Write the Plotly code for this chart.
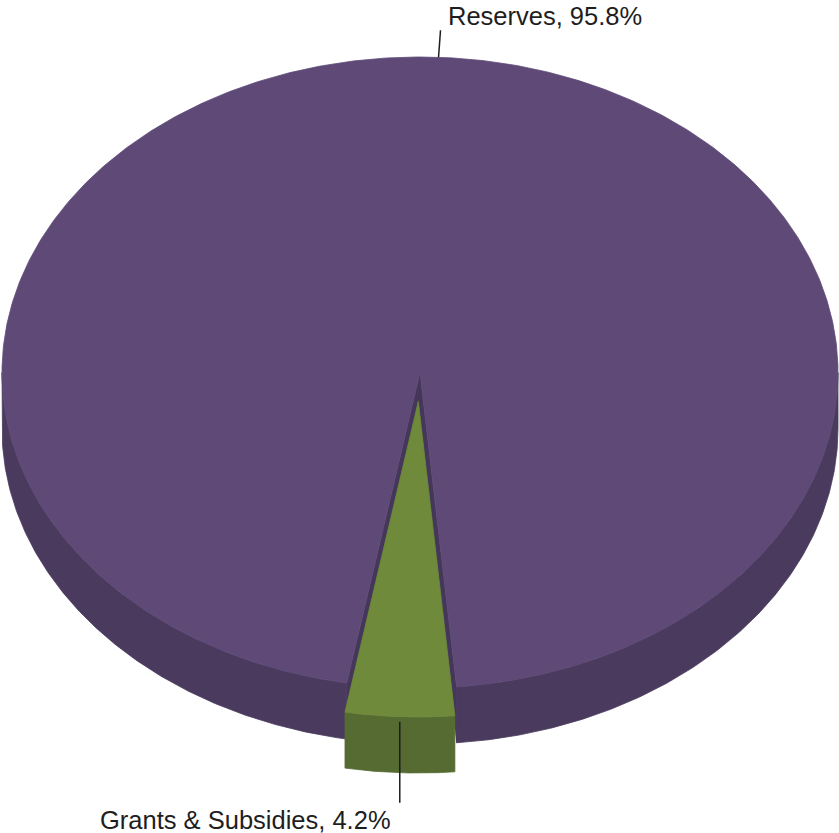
import numpy as np
import plotly.graph_objects as go

# ---- data ----
categories = ["Reserves", "Grants & Subsidies"]
values = [95.8, 4.2]
explode = [0.0, 0.092]

# ---- style / geometry (pixels) ----
W, H = 839, 833
cx, cy = 420.0, 372.5
rx, ry = 418.0, 315.5
depth = 56.0
start_deg = 190.1          # clockwise from top, where first slice begins
top_colors = ["#5E4977", "#6F8A3B"]
side_colors = ["#4A3B5E", "#566B31"]
cut_colors = ["#45375A", "#4A5C2A"]
font = dict(family="Liberation Sans, Arial, sans-serif", size=25.5, color="#1E1E1E")

total = float(sum(values))
spans = [v / total * 360.0 for v in values]
starts = [start_deg + sum(spans[:i]) for i in range(len(values))]


def pt(phi_deg, ox, oy, dz=0.0):
    p = np.radians(phi_deg)
    return cx + ox + rx * np.sin(p), cy + oy - ry * np.cos(p) + dz


def arc(a0, a1, ox, oy, dz=0.0):
    ph = np.linspace(a0, a1, max(2, int(abs(a1 - a0) * 2) + 2))
    x, y = pt(ph, ox, oy, dz)
    return list(x), list(y)


fig = go.Figure()


def poly(xs, ys, color, lw=0.8):
    xs = list(xs) + [xs[0]]
    ys = list(ys) + [ys[0]]
    fig.add_trace(go.Scatter(x=xs, y=ys, mode="lines", fill="toself",
                             fillcolor=color, line=dict(color=color, width=lw),
                             hoverinfo="skip", showlegend=False))


offsets = []
for i, (a0, sp) in enumerate(zip(starts, spans)):
    mid = a0 + sp / 2
    ox = explode[i] * rx * np.sin(np.radians(mid))
    oy = -explode[i] * ry * np.cos(np.radians(mid))
    offsets.append((ox, oy, mid))

for i, (a0, sp) in enumerate(zip(starts, spans)):
    a1 = a0 + sp
    ox, oy, mid = offsets[i]
    # visible outer side: where the rim faces the viewer (90..270 mod 360)
    for k in range(-1, 3):
        lo, hi = 90 + 360 * k, 270 + 360 * k
        s, e = max(a0, lo), min(a1, hi)
        if e > s:
            tx, ty = arc(s, e, ox, oy)
            bx, by = arc(e, s, ox, oy, depth)
            poly(tx + bx, ty + by, side_colors[i])
    # cut faces (radial walls) that face the viewer
    for ang, sign in ((a0, -1), (a1, 1)):
        p = np.radians(ang)
        ny = sign * np.sin(p)
        if ny > 0:
            x0, y0 = cx + ox, cy + oy
            x1, y1 = pt(ang, ox, oy)
            poly([x0, x1, x1, x0], [y0, y1, y1 + depth, y0 + depth], cut_colors[i], 0.5)
    # top face
    tx, ty = arc(a0, a1, ox, oy)
    poly([cx + ox] + tx, [cy + oy] + ty, top_colors[i])

# ---- labels with leader lines ----
# Reserves (top)
ox, oy, mid = offsets[0]
lx, ly = pt(mid, ox, oy)
fig.add_trace(go.Scatter(x=[lx, lx + 2], y=[ly, ly - 27], mode="lines",
                         line=dict(color="#1E1E1E", width=1.5),
                         hoverinfo="skip", showlegend=False))
fig.add_annotation(x=lx + 7, y=ly - 41, xref="x", yref="y", showarrow=False,
                   xanchor="left", yanchor="middle", font=font,
                   text=f"{categories[0]}, {values[0]:.1f}%")

# Grants & Subsidies (bottom)
ox, oy, mid = offsets[1]
gx, gy = pt(mid, ox, oy)
fig.add_trace(go.Scatter(x=[gx, gx], y=[gy + 5, gy + 86], mode="lines",
                         line=dict(color="#1E1E1E", width=1.5),
                         hoverinfo="skip", showlegend=False))
fig.add_annotation(x=gx - 7, y=gy + 103, xref="x", yref="y", showarrow=False,
                   xanchor="right", yanchor="middle", font=font,
                   text=f"{categories[1]}, {values[1]:.1f}%")

fig.update_layout(
    width=W, height=H, autosize=False,
    margin=dict(l=0, r=0, t=0, b=0),
    paper_bgcolor="white", plot_bgcolor="white",
    xaxis=dict(range=[0, W], visible=False, fixedrange=True),
    yaxis=dict(range=[H, 0], visible=False, fixedrange=True),
    showlegend=False,
)

fig.write_html("out.html", config={"displayModeBar": False},
               post_script="document.body.style.margin='0';document.body.style.overflow='hidden';")
